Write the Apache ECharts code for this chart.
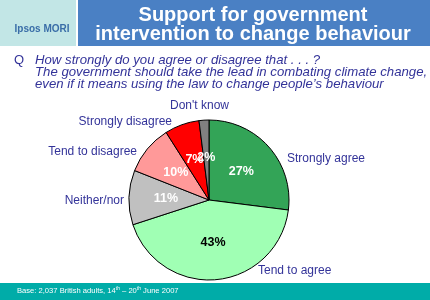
<!DOCTYPE html>
<html>
<head>
<meta charset="utf-8">
<script src="https://cdn.jsdelivr.net/npm/echarts@6/dist/echarts.min.js"></script>
<style>
html,body{margin:0;padding:0;background:#fff;}
#chart{width:430px;height:300px;}
</style>
</head>
<body>
<div id="chart"></div>
<script>
const categories = ['Strongly agree', 'Tend to agree', 'Neither/nor', 'Tend to disagree', 'Strongly disagree', "Don't know"];
const values = [27, 43, 11, 10, 7, 2];
const sliceColors = ['#33A457', '#A0FFB4', '#C0C0C0', '#FF9999', '#FF0000', '#808080'];
const pctColors = ['#ffffff', '#000000', '#ffffff', '#ffffff', '#ffffff', '#ffffff'];
const titleLines = ['Support for government', 'intervention to change behaviour'];
const questionLines = ['How strongly do you agree or disagree that . . . ?',
  'The government should take the lead in combating climate change,',
  "even if it means using the law to change people\u2019s behaviour"];

// outer label placement: [x, y, align]
const outerPos = [
  [287, 159, 'left'],
  [258, 271, 'left'],
  [124, 201, 'right'],
  [137, 152, 'right'],
  [172, 122, 'right'],
  [170, 106, 'left']
];

const chart = echarts.init(document.getElementById('chart'), null, {renderer: 'canvas'});
const textBlue = '#333399';
const fam = '"Liberation Sans", Arial, sans-serif';

const graphics = [
  {type: 'rect', shape: {x: 0, y: 0, width: 76, height: 46}, style: {fill: '#C2E6E6'}},
  {type: 'rect', shape: {x: 78, y: 0, width: 352, height: 46}, style: {fill: '#4A80C4'}},
  {type: 'text', x: 42, y: 29, style: {text: 'Ipsos MORI', fill: '#3A6EA8', fontFamily: fam, fontWeight: 'bold', fontSize: 10, align: 'center', verticalAlign: 'middle'}},
  {type: 'text', x: 253, y: 15, style: {text: titleLines[0], fill: '#ffffff', fontFamily: fam, fontWeight: 'bold', fontSize: 20, align: 'center', verticalAlign: 'middle'}},
  {type: 'text', x: 253, y: 34, style: {text: titleLines[1], fill: '#ffffff', fontFamily: fam, fontWeight: 'bold', fontSize: 20, align: 'center', verticalAlign: 'middle'}},
  {type: 'text', x: 14, y: 60, style: {text: 'Q', fill: textBlue, fontFamily: fam, fontSize: 13, verticalAlign: 'middle'}},
  {type: 'rect', shape: {x: 0, y: 283, width: 430, height: 17}, style: {fill: '#00ACA8'}},
  {type: 'text', x: 17, y: 291, style: {
    text: 'Base: 2,037 British adults, 14{s|th} \u2013 20{s|th} June 2007',
    fill: '#ffffff', fontFamily: fam, fontSize: 7.6, verticalAlign: 'middle',
    rich: {s: {fontSize: 5, verticalAlign: 'top', fill: '#ffffff', padding: [0, 0, 4, 0]}}
  }}
];
questionLines.forEach((t, i) => {
  graphics.push({type: 'text', x: 35, y: 60 + i * 12, style: {text: t, fill: textBlue, fontFamily: fam, fontStyle: 'italic', fontSize: 13.2, verticalAlign: 'middle'}});
});
categories.forEach((c, i) => {
  const p = outerPos[i];
  graphics.push({type: 'text', x: p[0], y: p[1], style: {text: c, fill: textBlue, fontFamily: fam, fontSize: 12, align: p[2], verticalAlign: 'middle'}});
});

chart.setOption({
  animation: false,
  graphic: graphics,
  series: [{
    type: 'pie',
    center: [209, 200],
    radius: [0, 80],
    startAngle: 90,
    clockwise: true,
    avoidLabelOverlap: false,
    minShowLabelAngle: 0,
    labelLayout: {hideOverlap: false},
    label: {
      show: true,
      position: 'inside',
      formatter: p => p.value + '%',
      fontFamily: fam,
      fontWeight: 'bold',
      fontSize: 12.5
    },
    labelLine: {show: false},
    emphasis: {disabled: true},
    itemStyle: {borderColor: '#000000', borderWidth: 1},
    data: categories.map((c, i) => ({
      name: c,
      value: values[i],
      itemStyle: {color: sliceColors[i]},
      label: {color: pctColors[i]}
    }))
  }]
});
</script>
</body>
</html>
